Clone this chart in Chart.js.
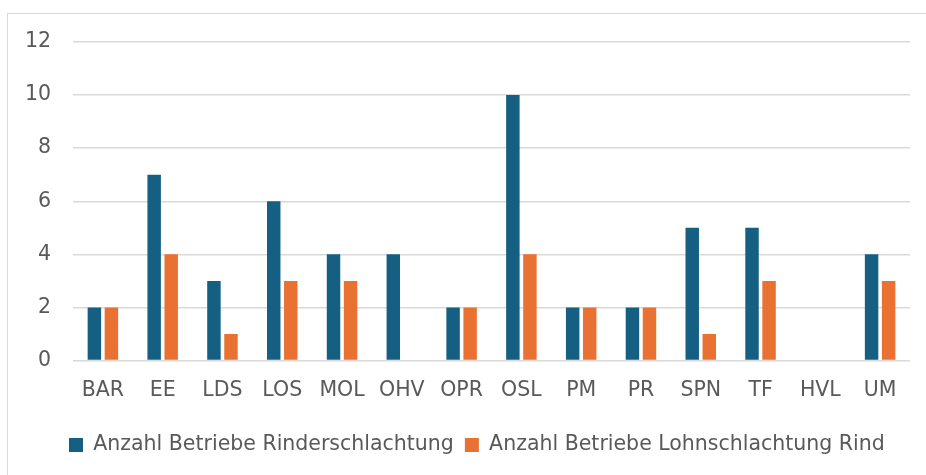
<!DOCTYPE html>
<html>
<head>
<meta charset="utf-8">
<script src="https://cdn.jsdelivr.net/npm/chart.js@4/dist/chart.umd.min.js"></script>
<style>
html,body{margin:0;padding:0;background:#fff;overflow:hidden;width:926px;height:475px;}
#frame{position:absolute;left:7px;top:13px;width:919px;height:462px;border-left:1.5px solid #d9d9d9;border-top:1.5px solid #d9d9d9;box-sizing:border-box;}
#wrap{position:absolute;left:0;top:0;width:926px;height:475px;}
</style>
</head>
<body>
<div id="frame"></div>
<div id="wrap"><canvas id="c" width="926" height="475"></canvas></div>
<script>
const categories = ["BAR","EE","LDS","LOS","MOL","OHV","OPR","OSL","PM","PR","SPN","TF","HVL","UM"];
const rinderschlachtung = [2,7,3,6,4,4,2,10,2,2,5,5,0,4];
const lohnschlachtung = [2,4,1,3,3,0,2,4,2,2,1,3,0,3];
const seriesNames = ["Anzahl Betriebe Rinderschlachtung","Anzahl Betriebe Lohnschlachtung Rind"];
const yTicks = [0,2,4,6,8,10,12];

const FONT = "DejaVu Sans";
const FS = 20.5;
const shiftLegend = {
  id:'shiftLegend',
  afterLayout(chart){ if(chart.legend){ chart.legend.left = 58; } }
};
new Chart(document.getElementById('c'), {
  type: 'bar',
  data: {
    labels: categories,
    datasets: [
      {label: seriesNames[0], data: rinderschlachtung, backgroundColor: '#156082', categoryPercentage:0.57, barPercentage:0.79},
      {label: seriesNames[1], data: lohnschlachtung, backgroundColor: '#E97132', categoryPercentage:0.57, barPercentage:0.79}
    ]
  },
  options: {
    responsive:false,
    animation:false,
    layout:{padding:{top:42,right:16,left:0,bottom:9.75}},
    plugins:{
      tooltip:{enabled:false},
      legend:{
        position:'bottom',
        align:'start',
        labels:{boxWidth:14,boxHeight:14,color:'#595959',font:{family:FONT,size:FS},padding:11}
      }
    },
    scales:{
      x:{
        grid:{display:false,drawTicks:false},
        border:{display:false},
        ticks:{color:'#595959',font:{family:FONT,size:FS},padding:18,maxRotation:0,autoSkip:false},
        afterFit(s){s.height=63.25;}
      },
      y:{
        min:0,max:12,
        afterBuildTicks(s){s.ticks = yTicks.map(v=>({value:v}));},
        grid:{color:'#d9d9d9',lineWidth:1.5,drawTicks:false},
        border:{display:false},
        ticks:{color:'#595959',font:{family:FONT,size:FS},padding:22},
        afterFit(s){s.width=73;}
      }
    }
  },
  plugins:[shiftLegend]
});
</script>
</body>
</html>
